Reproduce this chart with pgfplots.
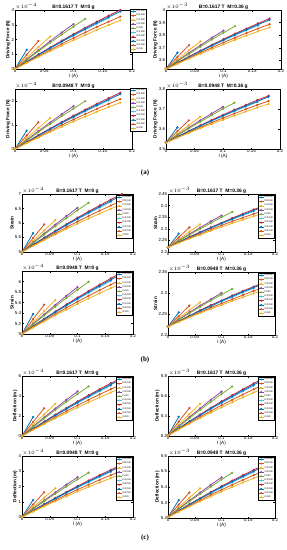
\documentclass[border=0pt]{standalone}
\usepackage{fontspec}
\setmainfont{Liberation Sans}
\newfontfamily\serifbf{Liberation Serif}
\usepackage{pgfplots}
\usepackage{pgfplotstable}
\pgfplotsset{compat=1.18}
\definecolor{mblue}{rgb}{0,0.447,0.741}
\definecolor{morange}{rgb}{0.85,0.325,0.098}
\definecolor{myellow}{rgb}{0.929,0.694,0.125}
\definecolor{mpurple}{rgb}{0.58,0.27,0.65}
\definecolor{mgreen}{rgb}{0.466,0.674,0.188}
\definecolor{mcyan}{rgb}{0.301,0.745,0.933}
\definecolor{mdred}{rgb}{0.80,0.12,0.20}
\pgfplotscreateplotcyclelist{mat}{
{mblue,mark=*,mark options={fill=mblue}},{morange,mark=*,mark options={fill=morange}},{myellow,mark=*,mark options={fill=myellow}},{mpurple,mark=*,mark options={fill=mpurple}},{mgreen,mark=*,mark options={fill=mgreen}},
{mcyan,mark=*,mark options={fill=mcyan}},{mdred,mark=*,mark options={fill=mdred}},{mblue,mark=*,mark options={fill=mblue}},{morange,mark=*,mark options={fill=morange}},{myellow,mark=*,mark options={fill=myellow}}}
\pgfplotsset{
 panel/.style={
  scale only axis, anchor=north west, clip mode=individual,
  xmin=0, xmax=0.2, xtick={0,0.05,0.1,0.15,0.2}, xticklabels={0,0.05,0.1,0.15,0.2},
  scaled ticks=false,
  axis line style={line width=0.35pt},
  major tick length=1.5pt, every tick/.style={black,line width=0.3pt},
  tick label style={font=\fontsize{4.4}{5}\selectfont, inner sep=0.7pt},
  xlabel={I (A)}, xlabel style={font=\fontsize{4.7}{5}\selectfont, inner sep=0.5pt},
  ylabel style={font=\bfseries\fontsize{4.7}{5}\selectfont, inner sep=0.5pt},
  every axis title/.style={at={(0.5,1)}, anchor=south, inner sep=0.4pt, font=\bfseries\fontsize{4.9}{5.5}\selectfont},
  cycle list name=mat,
  every axis plot/.append style={line width=0.8pt, mark size=0.7pt},
  every mark/.append style={solid},
  legend cell align=left,
  legend style={font=\fontsize{2.6}{2.8}\selectfont, inner sep=0.3pt, draw=black, line width=0.2pt, nodes={inner sep=0.45pt}, row sep=0pt, column sep=0pt},
  legend image code/.code={\draw[mark repeat=2,mark phase=2,line width=0.6pt] plot coordinates {(0pt,0pt) (2.5pt,0pt) (5pt,0pt)};},
 },
 legin/.style={legend style={at={(0.99,0.985)}, anchor=north east}},
 legout/.style={legend style={at={(0.983,1.017)}, anchor=north west}},
}
\tikzset{expo/.style={anchor=south west, inner sep=0.3pt, font=\fontsize{3.8}{4}\selectfont}}
\newcommand{\plotall}[1]{\pgfplotsinvokeforeach{1,...,10}{\addplot table[x=I,y=c##1]{#1};}}
\newcommand{\legall}{\legend{0.4 mm,0.8 mm,1.2 mm,1.6 mm,2 mm,2.4 mm,2.8 mm,3.2 mm,3.6 mm,4 mm}}

% Driving force, B=0.1617 T, M=0 g (x1e-4 N)
\pgfplotstableread{
I c1 c2 c3 c4 c5 c6 c7 c8 c9 c10
0 0 0 0 0 0 0 0 0 0 0
0.02 1.3 0.964 0.755 0.647 0.610 0.479 0.501 0.489 0.445 0.414
0.04 nan 1.9 1.488 1.275 1.203 0.944 0.989 0.964 0.877 0.816
0.06 nan nan 2.2 1.885 1.778 1.396 1.461 1.425 1.297 1.206
0.08 nan nan nan 2.477 2.336 1.834 1.920 1.872 1.704 1.584
0.10 nan nan nan 3.05 2.877 2.258 2.365 2.305 2.099 1.951
0.12 nan nan nan nan 3.4 2.669 2.795 2.725 2.480 2.306
0.14 nan nan nan nan nan 3.066 3.211 3.131 2.850 2.649
0.16 nan nan nan nan nan 3.45 3.613 3.522 3.206 2.980
0.18 nan nan nan nan nan nan 4.0 3.9 3.55 3.3
}\tAa
% B=0.1617 T, M=0.36 g (x1e-3 N)
\pgfplotstableread{
I c1 c2 c3 c4 c5 c6 c7 c8 c9 c10
0 3.532 3.532 3.532 3.532 3.532 3.532 3.532 3.532 3.532 3.532
0.02 3.662 3.628 3.608 3.597 3.593 3.580 3.582 3.581 3.577 3.573
0.04 nan 3.722 3.681 3.660 3.652 3.626 3.631 3.628 3.620 3.614
0.06 nan nan 3.752 3.721 3.710 3.672 3.678 3.675 3.662 3.653
0.08 nan nan nan 3.780 3.766 3.715 3.724 3.719 3.702 3.690
0.10 nan nan nan 3.837 3.820 3.758 3.769 3.763 3.742 3.727
0.12 nan nan nan nan 3.872 3.799 3.812 3.805 3.780 3.763
0.14 nan nan nan nan nan 3.839 3.853 3.845 3.817 3.797
0.16 nan nan nan nan nan 3.877 3.893 3.884 3.853 3.830
0.18 nan nan nan nan nan nan 3.932 3.922 3.887 3.862
}\tAb
\pgfplotstableread{
I c1 c2 c3 c4 c5 c6 c7 c8 c9 c10
0 0 0 0 0 0 0 0 0 0 0
0.02 0.762 0.565 0.442 0.379 0.357 0.281 0.294 0.287 0.261 0.243
0.04 nan 1.113 0.872 0.747 0.705 0.553 0.580 0.565 0.514 0.478
0.06 nan nan 1.289 1.105 1.042 0.818 0.856 0.835 0.760 0.707
0.08 nan nan nan 1.452 1.369 1.075 1.125 1.097 0.999 0.928
0.10 nan nan nan 1.787 1.686 1.323 1.386 1.351 1.230 1.143
0.12 nan nan nan nan 1.992 1.564 1.638 1.597 1.453 1.351
0.14 nan nan nan nan nan 1.797 1.882 1.835 1.670 1.552
0.16 nan nan nan nan nan 2.022 2.117 2.064 1.879 1.746
0.18 nan nan nan nan nan nan 2.344 2.285 2.080 1.934
}\tAc
\pgfplotstableread{
I c1 c2 c3 c4 c5 c6 c7 c8 c9 c10
0 3.532 3.532 3.532 3.532 3.532 3.532 3.532 3.532 3.532 3.532
0.02 3.608 3.589 3.576 3.570 3.568 3.560 3.561 3.561 3.558 3.556
0.04 nan 3.643 3.619 3.607 3.603 3.587 3.590 3.589 3.583 3.580
0.06 nan nan 3.661 3.643 3.636 3.614 3.618 3.616 3.608 3.603
0.08 nan nan nan 3.677 3.669 3.640 3.645 3.642 3.632 3.625
0.10 nan nan nan 3.711 3.701 3.664 3.671 3.667 3.655 3.646
0.12 nan nan nan nan 3.731 3.688 3.696 3.692 3.677 3.667
0.14 nan nan nan nan nan 3.712 3.720 3.716 3.699 3.687
0.16 nan nan nan nan nan 3.734 3.744 3.738 3.720 3.707
0.18 nan nan nan nan nan nan 3.766 3.761 3.740 3.725
}\tAd
% Strain
\pgfplotstableread{
I c1 c2 c3 c4 c5 c6 c7 c8 c9 c10
0 5 5 5 5 5 5 5 5 5 5
0.02 5.65 5.482 5.378 5.324 5.305 5.240 5.251 5.245 5.223 5.207
0.04 nan 5.95 5.744 5.638 5.602 5.472 5.495 5.482 5.439 5.408
0.06 nan nan 6.1 5.943 5.889 5.698 5.731 5.713 5.649 5.603
0.08 nan nan nan 6.239 6.168 5.917 5.960 5.936 5.852 5.792
0.10 nan nan nan 6.525 6.439 6.129 6.183 6.153 6.050 5.976
0.12 nan nan nan nan 6.7 6.335 6.398 6.363 6.240 6.153
0.14 nan nan nan nan nan 6.533 6.606 6.566 6.425 6.325
0.16 nan nan nan nan nan 6.725 6.807 6.761 6.603 6.490
0.18 nan nan nan nan nan nan 7.0 6.95 6.775 6.65
}\tBa
\pgfplotstableread{
I c1 c2 c3 c4 c5 c6 c7 c8 c9 c10
0 2.22 2.22 2.22 2.22 2.22 2.22 2.22 2.22 2.22 2.22
0.02 2.279 2.263 2.254 2.249 2.248 2.242 2.243 2.242 2.240 2.239
0.04 nan 2.306 2.287 2.277 2.274 2.263 2.265 2.263 2.260 2.257
0.06 nan nan 2.319 2.305 2.300 2.283 2.286 2.284 2.278 2.274
0.08 nan nan nan 2.332 2.325 2.303 2.306 2.304 2.297 2.291
0.10 nan nan nan 2.357 2.350 2.322 2.326 2.324 2.315 2.308
0.12 nan nan nan nan 2.373 2.340 2.346 2.343 2.332 2.324
0.14 nan nan nan nan nan 2.358 2.365 2.361 2.348 2.339
0.16 nan nan nan nan nan 2.375 2.383 2.379 2.364 2.354
0.18 nan nan nan nan nan nan 2.400 2.396 2.380 2.369
}\tBb
\pgfplotstableread{
I c1 c2 c3 c4 c5 c6 c7 c8 c9 c10
0 5 5 5 5 5 5 5 5 5 5
0.02 5.381 5.283 5.221 5.190 5.179 5.141 5.147 5.144 5.131 5.122
0.04 nan 5.557 5.436 5.374 5.353 5.277 5.290 5.283 5.257 5.239
0.06 nan nan 5.645 5.553 5.521 5.409 5.428 5.418 5.380 5.354
0.08 nan nan nan 5.726 5.685 5.538 5.563 5.549 5.500 5.464
0.10 nan nan nan 5.894 5.843 5.662 5.693 5.676 5.615 5.572
0.12 nan nan nan nan 5.996 5.782 5.819 5.799 5.727 5.676
0.14 nan nan nan nan nan 5.899 5.941 5.918 5.835 5.776
0.16 nan nan nan nan nan 6.011 6.059 6.032 5.940 5.873
0.18 nan nan nan nan nan nan 6.172 6.143 6.040 5.967
}\tBc
\pgfplotstableread{
I c1 c2 c3 c4 c5 c6 c7 c8 c9 c10
0 2.22 2.22 2.22 2.22 2.22 2.22 2.22 2.22 2.22 2.22
0.02 2.254 2.245 2.240 2.237 2.236 2.233 2.233 2.233 2.232 2.231
0.04 nan 2.270 2.259 2.254 2.252 2.245 2.246 2.245 2.243 2.242
0.06 nan nan 2.278 2.270 2.267 2.257 2.259 2.258 2.254 2.252
0.08 nan nan nan 2.285 2.282 2.268 2.271 2.269 2.265 2.262
0.10 nan nan nan 2.300 2.296 2.280 2.282 2.281 2.275 2.271
0.12 nan nan nan nan 2.310 2.290 2.294 2.292 2.285 2.281
0.14 nan nan nan nan nan 2.301 2.305 2.303 2.295 2.290
0.16 nan nan nan nan nan 2.311 2.315 2.313 2.305 2.299
0.18 nan nan nan nan nan nan 2.326 2.323 2.314 2.307
}\tBd
% Deflection
\pgfplotstableread{
I c1 c2 c3 c4 c5 c6 c7 c8 c9 c10
0 0 0 0 0 0 0 0 0 0 0
0.02 1.898 1.407 1.102 0.945 0.891 0.699 0.731 0.714 0.650 0.604
0.04 nan 2.774 2.172 1.862 1.756 1.378 1.444 1.407 1.280 1.191
0.06 nan nan 3.212 2.752 2.596 2.038 2.133 2.081 1.894 1.761
0.08 nan nan nan 3.616 3.411 2.678 2.803 2.733 2.488 2.313
0.10 nan nan nan 4.453 4.200 3.297 3.453 3.365 3.065 2.848
0.12 nan nan nan nan 4.964 3.897 4.081 3.979 3.621 3.367
0.14 nan nan nan nan nan 4.476 4.688 4.571 4.161 3.868
0.16 nan nan nan nan nan 5.037 5.275 5.142 4.681 4.351
0.18 nan nan nan nan nan nan 5.84 5.694 5.183 4.818
}\tCa
\pgfplotstableread{
I c1 c2 c3 c4 c5 c6 c7 c8 c9 c10
0 5.205 5.205 5.205 5.205 5.205 5.205 5.205 5.205 5.205 5.205
0.02 5.392 5.344 5.314 5.298 5.293 5.274 5.277 5.275 5.269 5.265
0.04 nan 5.479 5.419 5.389 5.378 5.341 5.347 5.344 5.331 5.323
0.06 nan nan 5.522 5.476 5.461 5.406 5.415 5.410 5.392 5.379
0.08 nan nan nan 5.562 5.541 5.469 5.482 5.475 5.450 5.433
0.10 nan nan nan 5.644 5.619 5.530 5.546 5.537 5.507 5.486
0.12 nan nan nan nan 5.695 5.589 5.608 5.597 5.562 5.537
0.14 nan nan nan nan nan 5.647 5.667 5.656 5.615 5.587
0.16 nan nan nan nan nan 5.702 5.725 5.712 5.667 5.634
0.18 nan nan nan nan nan nan 5.781 5.767 5.716 5.680
}\tCb
\pgfplotstableread{
I c1 c2 c3 c4 c5 c6 c7 c8 c9 c10
0 0 0 0 0 0 0 0 0 0 0
0.02 1.113 0.825 0.645 0.553 0.521 0.410 0.429 0.419 0.381 0.355
0.04 nan 1.625 1.273 1.091 1.029 0.807 0.847 0.825 0.750 0.698
0.06 nan nan 1.882 1.613 1.521 1.194 1.250 1.219 1.110 1.032
0.08 nan nan nan 2.120 1.999 1.570 1.643 1.602 1.459 1.355
0.10 nan nan nan 2.609 2.462 1.932 2.024 1.972 1.796 1.669
0.12 nan nan nan nan 2.908 2.283 2.391 2.332 2.121 1.972
0.14 nan nan nan nan nan 2.624 2.748 2.679 2.438 2.266
0.16 nan nan nan nan nan 2.952 3.091 3.013 2.743 2.549
0.18 nan nan nan nan nan nan 3.422 3.336 3.037 2.824
}\tCc
\pgfplotstableread{
I c1 c2 c3 c4 c5 c6 c7 c8 c9 c10
0 5.205 5.205 5.205 5.205 5.205 5.205 5.205 5.205 5.205 5.205
0.02 5.315 5.286 5.269 5.260 5.256 5.246 5.247 5.246 5.243 5.240
0.04 nan 5.365 5.331 5.313 5.307 5.285 5.289 5.286 5.279 5.274
0.06 nan nan 5.391 5.364 5.355 5.323 5.328 5.325 5.314 5.307
0.08 nan nan nan 5.414 5.402 5.360 5.367 5.363 5.349 5.339
0.10 nan nan nan 5.462 5.448 5.396 5.405 5.400 5.382 5.370
0.12 nan nan nan nan 5.492 5.430 5.441 5.435 5.414 5.400
0.14 nan nan nan nan nan 5.464 5.476 5.469 5.446 5.429
0.16 nan nan nan nan nan 5.496 5.510 5.502 5.476 5.456
0.18 nan nan nan nan nan nan 5.543 5.534 5.505 5.484
}\tCd

\begin{document}
\begin{tikzpicture}
\path[use as bounding box] (0,0) rectangle (287pt,-550pt);
% ---------- (a) ----------
\begin{axis}[panel, legout, at={(15pt,-10pt)}, width=117pt, height=59pt,
  ymin=0, ymax=4, ytick={0,1,2,3,4}, yticklabels={0,1,2,3,4},
  ylabel={Driving Force (N)}, title={B=0.1617 T\ \ M=0 g}]
\plotall{\tAa}
\legall
\node[expo] at (rel axis cs:0,1) {$\times10^{-4}$};
\end{axis}
\begin{axis}[panel, at={(166pt,-10pt)}, width=115pt, height=59pt,
  ymin=3.532, ymax=4, ytick={3.6,3.7,3.8,3.9,4}, yticklabels={3.6,3.7,3.8,3.9,4},
  ylabel={Driving Force (N)}, title={B=0.1617 T\ \ M=0.36 g}]
\plotall{\tAb}
\node[expo] at (rel axis cs:0,1) {$\times10^{-3}$};
\end{axis}
\begin{axis}[panel, legout, at={(15pt,-89pt)}, width=117pt, height=60pt,
  ymin=0, ymax=2.5, ytick={0,1,2}, yticklabels={0,1,2},
  ylabel={Driving Force (N)}, title={B=0.0948 T\ \ M=0 g}]
\plotall{\tAc}
\legall
\node[expo] at (rel axis cs:0,1) {$\times10^{-4}$};
\end{axis}
\begin{axis}[panel, at={(166pt,-89pt)}, width=114pt, height=60pt,
  ymin=3.5, ymax=3.8, ytick={3.5,3.6,3.7,3.8}, yticklabels={3.5,3.6,3.7,3.8},
  ylabel={Driving Force (N)}, title={B=0.0948 T\ \ M=0.36 g}]
\plotall{\tAd}
\node[expo] at (rel axis cs:0,1) {$\times10^{-3}$};
\end{axis}
\node[font=\serifbf\bfseries\fontsize{7}{8}\selectfont] at (145pt,-173pt) {(a)};
% ---------- (b) ----------
\begin{axis}[panel, legin, at={(22pt,-194pt)}, width=111pt, height=58pt,
  ymin=5, ymax=7, ytick={5,5.5,6,6.5,7}, yticklabels={5,5.5,6,6.5,7},
  ylabel={Strain}, title={B=0.1617 T\ \ M=0 g}]
\plotall{\tBa}
\legall
\node[expo] at (rel axis cs:0,1) {$\times10^{-4}$};
\end{axis}
\begin{axis}[panel, legin, at={(168pt,-194pt)}, width=107pt, height=58pt,
  ymin=2.2, ymax=2.45, ytick={2.2,2.25,2.3,2.35,2.4,2.45}, yticklabels={2.2,2.25,2.3,2.35,2.4,2.45},
  ylabel={Strain}, title={B=0.1617 T\ \ M=0.36 g}]
\plotall{\tBb}
\legall
\node[expo] at (rel axis cs:0,1) {$\times10^{-3}$};
\end{axis}
\begin{axis}[panel, legin, at={(22pt,-271pt)}, width=111pt, height=63pt,
  ymin=5, ymax=6.2, ytick={5,5.2,5.4,5.6,5.8,6}, yticklabels={5,5.2,5.4,5.6,5.8,6},
  ylabel={Strain}, title={B=0.0948 T\ \ M=0 g}]
\plotall{\tBc}
\legall
\node[expo] at (rel axis cs:0,1) {$\times10^{-4}$};
\end{axis}
\begin{axis}[panel, legin, at={(168pt,-272pt)}, width=107pt, height=63pt,
  ymin=2.2, ymax=2.35, ytick={2.2,2.25,2.3,2.35}, yticklabels={2.2,2.25,2.3,2.35},
  ylabel={Strain}, title={B=0.0948 T\ \ M=0.36 g}]
\plotall{\tBd}
\legall
\node[expo] at (rel axis cs:0,1) {$\times10^{-3}$};
\end{axis}
\node[font=\serifbf\bfseries\fontsize{7}{8}\selectfont] at (145pt,-360pt) {(b)};
% ---------- (c) ----------
\begin{axis}[panel, legin, at={(22pt,-376pt)}, width=111pt, height=60pt,
  ymin=0, ymax=6, ytick={0,2,4,6}, yticklabels={0,2,4,6},
  ylabel={Deflection (m)}, title={B=0.1617 T\ \ M=0 g}]
\plotall{\tCa}
\legall
\node[expo] at (rel axis cs:0,1) {$\times10^{-4}$};
\end{axis}
\begin{axis}[panel, legin, at={(168pt,-376pt)}, width=107pt, height=60pt,
  ymin=5.2, ymax=5.8, ytick={5.2,5.4,5.6,5.8}, yticklabels={5.2,5.4,5.6,5.8},
  ylabel={Deflection (m)}, title={B=0.1617 T\ \ M=0.36 g}]
\plotall{\tCb}
\legall
\node[expo] at (rel axis cs:0,1) {$\times10^{-3}$};
\end{axis}
\begin{axis}[panel, legin, at={(22pt,-456pt)}, width=111pt, height=61pt,
  ymin=0, ymax=4, ytick={0,1,2,3,4}, yticklabels={0,1,2,3,4},
  ylabel={Deflection (m)}, title={B=0.0948 T\ \ M=0 g}]
\plotall{\tCc}
\legall
\node[expo] at (rel axis cs:0,1) {$\times10^{-4}$};
\end{axis}
\begin{axis}[panel, legin, at={(168pt,-456pt)}, width=107pt, height=62pt,
  ymin=5.2, ymax=5.6, ytick={5.2,5.3,5.4,5.5,5.6}, yticklabels={5.2,5.3,5.4,5.5,5.6},
  ylabel={Deflection (m)}, title={B=0.0948 T\ \ M=0.36 g}]
\plotall{\tCd}
\legall
\node[expo] at (rel axis cs:0,1) {$\times10^{-3}$};
\end{axis}
\node[font=\serifbf\bfseries\fontsize{7}{8}\selectfont] at (145pt,-538pt) {(c)};
\end{tikzpicture}
\end{document}
